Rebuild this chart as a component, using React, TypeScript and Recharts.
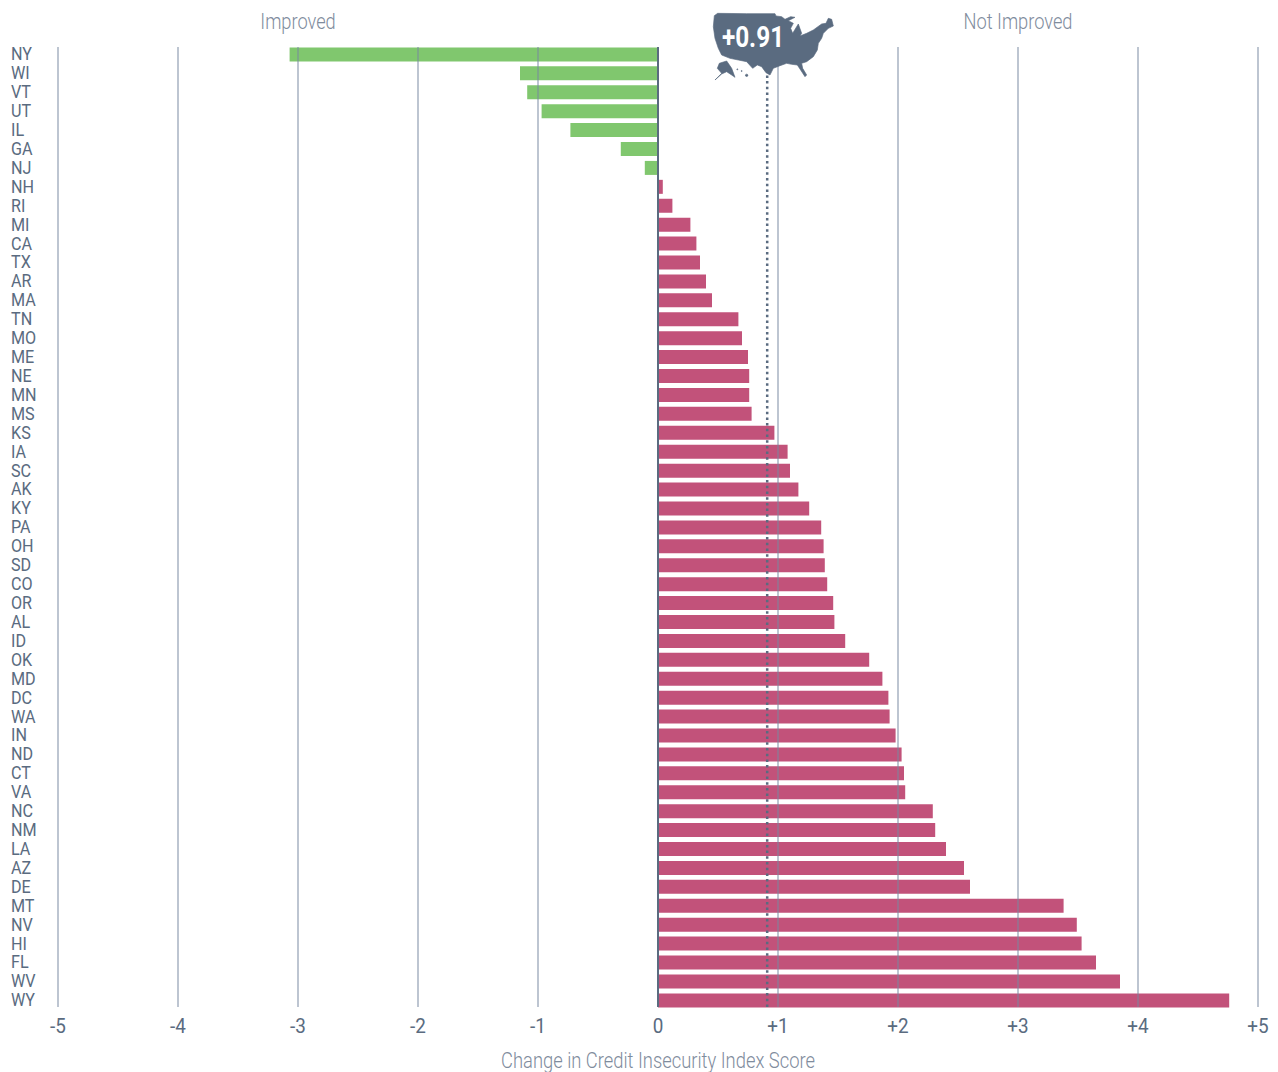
import React from 'react';
import { BarChart, Bar, Cell, XAxis, YAxis, ReferenceLine } from 'recharts';

const states = ['NY','WI','VT','UT','IL','GA','NJ','NH','RI','MI','CA','TX','AR','MA','TN','MO','ME','NE','MN','MS','KS','IA','SC','AK','KY','PA','OH','SD','CO','OR','AL','ID','OK','MD','DC','WA','IN','ND','CT','VA','NC','NM','LA','AZ','DE','MT','NV','HI','FL','WV','WY'];
const changes = [-3.07,-1.15,-1.09,-0.97,-0.73,-0.31,-0.11,0.04,0.12,0.27,0.32,0.35,0.4,0.45,0.67,0.7,0.75,0.76,0.76,0.78,0.97,1.08,1.1,1.17,1.26,1.36,1.38,1.39,1.41,1.46,1.47,1.56,1.76,1.87,1.92,1.93,1.98,2.03,2.05,2.06,2.29,2.31,2.4,2.55,2.6,3.38,3.49,3.53,3.65,3.85,4.76];
const xTicks = [-5,-4,-3,-2,-1,0,1,2,3,4,5];
const nationalChange = 0.91;

const rows = states.map((state, i) => ({ state, change: changes[i] }));

const SLATE = '#5a6b80';
const MUTED = '#7f8c9d';
const GRID = 'rgba(120,136,160,0.65)';
const GREEN = '#80c76e';
const PINK = '#c2527a';
const FONT = 'Roboto, sans-serif';

const fmtTick = (v: number) => (v > 0 ? `+${v}` : `${v}`);

// Roboto squeezed horizontally, there is no condensed cut on the box
const Squeezed = ({ x, y, size, fill, squeeze = 0.83, anchor = 'start', weight = 400, children }: any) => (
  <text
    transform={`translate(${x},${y}) scale(${squeeze},1)`}
    fontFamily={FONT}
    fontSize={size}
    fontWeight={weight}
    fill={fill}
    textAnchor={anchor}
    dominantBaseline="central"
  >
    {children}
  </text>
);

const StateTick = ({ y, payload }: any) => (
  <Squeezed x={11} y={y - 1} size={19} squeeze={0.85} fill={SLATE}>{payload.value}</Squeezed>
);

const ValueTick = ({ x, payload }: any) => (
  <Squeezed x={x} y={1026} size={21} squeeze={0.9} fill={SLATE} anchor="middle">{fmtTick(payload.value)}</Squeezed>
);

const MAINLAND = 'M103,47 L113,40 L200,41 L285,41 L288,48 L305,50 L315,58 L332,50 L345,52 L325,62 L340,70 L332,85 L338,100 L355,72 L365,100 L360,108 L380,100 L400,90 L425,72 L438,70 L445,55 L455,58 L460,78 L445,85 L430,100 L425,115 L415,130 L412,150 L400,170 L380,185 L365,190 L368,205 L380,225 L375,230 L362,210 L352,195 L335,193 L320,190 L300,197 L280,205 L270,225 L258,218 L245,200 L232,195 L218,205 L200,185 L175,180 L150,175 L125,165 L115,145 L105,115 L100,80 Z';
const ALASKA = 'M118,190 L140,183 L155,205 L165,232 L155,225 L140,215 L125,222 L105,240 L125,220 L112,205 Z';

const Overlay = () => (
  <svg width={1278} height={1072} style={{ position: 'absolute', left: 0, top: 0, pointerEvents: 'none' }}>
    <Squeezed x={298} y={21} size={22} fill={MUTED} anchor="middle" weight={300}>Improved</Squeezed>
    <Squeezed x={1018} y={21} size={22} fill={MUTED} anchor="middle" weight={300}>Not Improved</Squeezed>
    <Squeezed x={658} y={1060} size={22} squeeze={0.835} fill={MUTED} anchor="middle" weight={300}>Change in Credit Insecurity Index Score</Squeezed>
    <g transform="translate(680,0) scale(0.3333)" fill={SLATE} stroke={SLATE} strokeWidth={2} strokeLinejoin="round">
      <path d={MAINLAND} />
      <path d={ALASKA} />
      <circle cx={172} cy={208} r={1.5} />
      <circle cx={185} cy={213} r={1.5} />
      <circle cx={200} cy={226} r={3.5} />
    </g>
    <Squeezed x={753} y={37} size={29} squeeze={0.84} fill="#ffffff" anchor="middle" weight={700}>{fmtTick(nationalChange)}</Squeezed>
  </svg>
);

export default function App() {
  return (
    <div style={{ position: 'absolute', left: 0, top: 0, width: 1278, height: 1072, background: '#fff' }}>
      <BarChart
        width={1278}
        height={1072}
        data={rows}
        layout="vertical"
        margin={{ top: 47, right: 20, bottom: 0, left: 0 }}
        barCategoryGap={0}
      >
        <XAxis
          type="number"
          domain={[-5, 5]}
          ticks={xTicks}
          axisLine={false}
          tickLine={false}
          height={65}
          interval={0}
          tick={<ValueTick />}
        />
        <YAxis
          type="category"
          dataKey="state"
          width={58}
          axisLine={false}
          tickLine={false}
          interval={0}
          padding={{ top: -1.6, bottom: -3.3 } as any}
          tick={<StateTick />}
        />
        <Bar dataKey="change" barSize={14} isAnimationActive={false}>
          {rows.map((r) => (
            <Cell key={r.state} fill={r.change < 0 ? GREEN : PINK} />
          ))}
        </Bar>
        {xTicks.filter((t) => t !== 0).map((t) => (
          <ReferenceLine key={t} x={t} stroke={GRID} strokeWidth={1.5} />
        ))}
        <ReferenceLine x={0} stroke={SLATE} strokeWidth={2} />
        <ReferenceLine x={nationalChange} stroke={SLATE} strokeWidth={2.5} strokeDasharray="2.5 3.2" />
      </BarChart>
      <Overlay />
    </div>
  );
}
